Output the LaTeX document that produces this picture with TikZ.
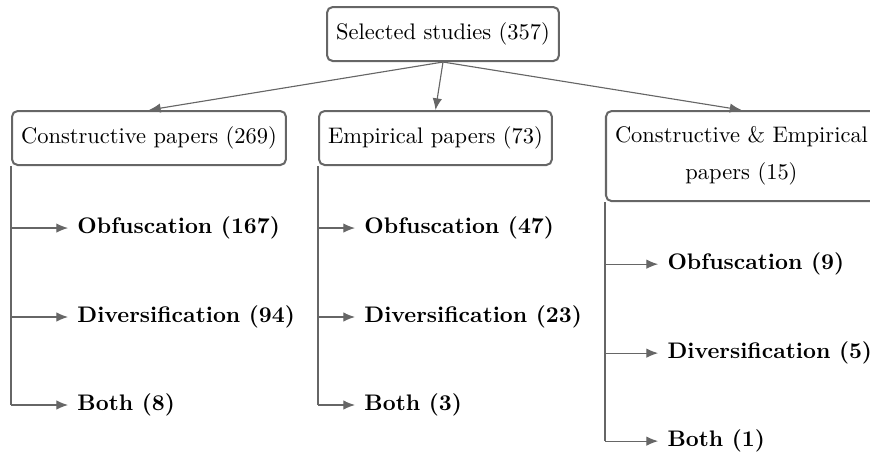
\documentclass[tikz,border=0pt]{standalone}
\usetikzlibrary{arrows.meta}

\tikzset{
    study/.style={draw=black!60, line width=0.9pt, rounded corners=2.5pt,
        inner xsep=4pt, inner ysep=7pt, align=center},
    leaf/.style={anchor=west, font=\bfseries, inner sep=4pt},
    link/.style={draw=black!60, line width=0.5pt,
        -{Latex[length=5.2pt,width=4.2pt]}},
    trunk/.style={draw=black!60, line width=0.5pt}
}

\begin{document}
    \begin{tikzpicture}
        \useasboundingbox (0,0) rectangle (13.594,-7.094);
        %% selected studies and the three kinds of papers
        \node[study,anchor=north] (sel) at (6.922,-0.094) {Selected studies (357)};
        \node[study,anchor=north west] (cons) at (0.172,-1.719) {Constructive papers (269)};
        \node[study,anchor=north west] (emp) at (4.969,-1.719) {Empirical papers (73)};
        \node[study,anchor=north west] (ce) at (9.453,-1.719)
            {Constructive \& Empirical\\[4.4pt] papers (15)};
        \foreach \col in {cons,emp,ce}
            \draw[link] (sel.south) -- (\col.north);
        %% split into obfuscation / diversification / both
        \foreach \col/\dx/\a/\b/\c in {cons/0.891/167/94/8, emp/0.578/47/23/3, ce/0.83/9/5/1} {
            \node[leaf] (\col-obf) at ([xshift=\dx cm,yshift=-0.969cm]\col.south west) {Obfuscation (\a)};
            \node[leaf] (\col-div) at ([xshift=\dx cm,yshift=-2.359cm]\col.south west) {Diversification (\b)};
            \node[leaf] (\col-both) at ([xshift=\dx cm,yshift=-3.734cm]\col.south west) {Both (\c)};
            \draw[trunk] (\col.south west) -- (\col.south west |- \col-both.west);
            \foreach \leaf in {obf,div,both}
                \draw[link] (\col.south west |- \col-\leaf.west) -- (\col-\leaf.west);
        }
    \end{tikzpicture}
\end{document}
